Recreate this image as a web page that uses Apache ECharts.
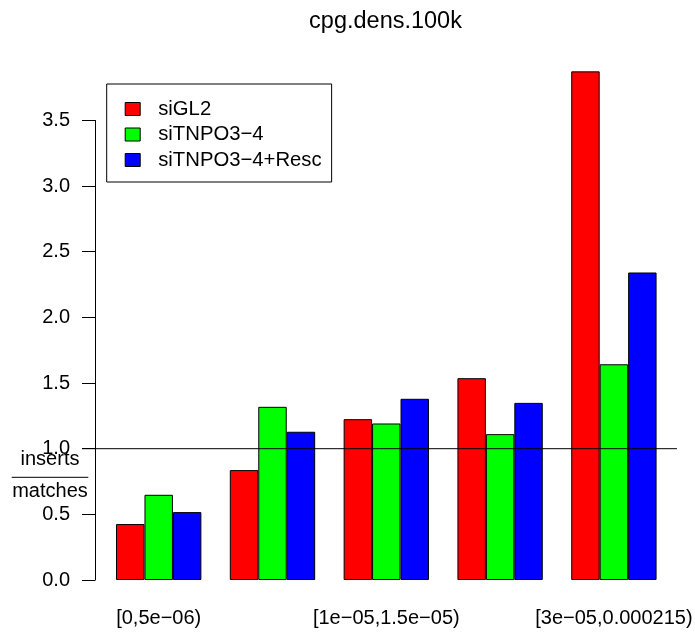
<!DOCTYPE html>
<html>
<head>
<meta charset="utf-8">
<script src="https://cdn.jsdelivr.net/npm/echarts@6/dist/echarts.min.js"></script>
<style>
  html, body { margin: 0; padding: 0; background: #fff; }
  #chart { width: 695px; height: 632px; }
</style>
</head>
<body>
<div id="chart"></div>
<script>
// CpG density bins and the inserts/matches ratio for each condition
const categories = ['[0,5e\u221206)', '[5e\u221206,1e\u221205)', '[1e\u221205,1.5e\u221205)', '[1.5e\u221205,3e\u221205)', '[3e\u221205,0.000215)'];
const siGL2 = [0.426, 0.837, 1.225, 1.537, 3.874];
const siTNPO3_4 = [0.649, 1.319, 1.192, 1.111, 1.643];
const siTNPO3_4_Resc = [0.517, 1.129, 1.380, 1.349, 2.342];
const seriesNames = ['siGL2', 'siTNPO3\u22124', 'siTNPO3\u22124+Resc'];
const seriesColors = ['#ff0000', '#00ff00', '#0000ff'];
const yTicksMax = 3.5;
const yTickStep = 0.5;
const referenceLevel = 1;

// layout
const W = 695;
const baseY = 580;          // pixel row of y = 0
const pxPerUnit = 131.3;    // vertical scale
const plotMax = 4;          // top of the bar panel in data units
const barW = 28.45;
const FONT = '"Liberation Sans", Arial, Helvetica, sans-serif';

const barsLeft = 101.8, barsRight = W - 670.8;
const barsTop = baseY - plotMax * pxPerUnit;
const barsBottom = 632 - baseY;
const axisTop = baseY - yTicksMax * pxPerUnit;

const chart = echarts.init(document.getElementById('chart'), null, { renderer: 'canvas' });

const barSeries = [siGL2, siTNPO3_4, siTNPO3_4_Resc].map((vals, i) => ({
  name: seriesNames[i],
  type: 'bar',
  xAxisIndex: 0,
  yAxisIndex: 0,
  data: vals,
  barWidth: barW,
  barGap: '0%',
  itemStyle: { color: seriesColors[i], borderColor: '#000', borderWidth: 1 },
  emphasis: { disabled: true },
  animation: false
}));

chart.setOption({
  animation: false,
  title: {
    text: 'cpg.dens.100k',
    left: 380.5,
    textAlign: 'center',
    top: 5,
    textStyle: { fontFamily: FONT, fontSize: 23.5, fontWeight: 'normal', color: '#000' }
  },
  legend: {
    data: seriesNames,
    orient: 'vertical',
    left: 106.7,
    top: 84,
    padding: [15, 10, 12, 18],
    borderColor: '#000',
    borderWidth: 1,
    icon: 'rect',
    itemWidth: 15,
    itemHeight: 13,
    itemGap: 5.5,
    textStyle: { fontFamily: FONT, fontSize: 20.3, color: '#000', lineHeight: 19, padding: [0, 0, 0, 13] },
    itemStyle: { borderColor: '#000', borderWidth: 1 },
    selectedMode: false
  },
  grid: [
    // bars
    { left: barsLeft, right: barsRight, top: barsTop, bottom: barsBottom, outerBoundsMode: 'none', containLabel: false },
    // y axis (ticks 0..3.5)
    { left: 95, right: W - 96, top: axisTop, bottom: barsBottom, outerBoundsMode: 'none', containLabel: false },
    // reference line panel
    { left: 82, right: W - 677, top: barsTop, bottom: barsBottom, outerBoundsMode: 'none', containLabel: false }
  ],
  xAxis: [
    {
      gridIndex: 0,
      type: 'category',
      data: categories,
      boundaryGap: true,
      axisLine: { show: false },
      axisTick: { show: false },
      axisLabel: { interval: 1, margin: 28, fontFamily: FONT, fontSize: 20, color: '#000' }
    },
    { gridIndex: 1, type: 'value', min: 0, max: 1, show: false },
    { gridIndex: 2, type: 'value', min: 0, max: 1, show: false }
  ],
  yAxis: [
    { gridIndex: 0, type: 'value', min: 0, max: plotMax, show: false },
    {
      gridIndex: 1,
      type: 'value',
      min: 0,
      max: yTicksMax,
      interval: yTickStep,
      axisLine: { show: true, lineStyle: { color: '#000', width: 1 } },
      axisTick: { show: true, length: 13, lineStyle: { color: '#000', width: 1 } },
      axisLabel: {
        margin: 25,
        fontFamily: FONT,
        fontSize: 20,
        color: '#000',
        formatter: v => v.toFixed(1)
      },
      splitLine: { show: false }
    },
    { gridIndex: 2, type: 'value', min: 0, max: plotMax, show: false }
  ],
  series: barSeries.concat([
    {
      type: 'line',
      xAxisIndex: 2,
      yAxisIndex: 2,
      data: [[0, referenceLevel], [1, referenceLevel]],
      showSymbol: false,
      symbol: 'none',
      lineStyle: { color: '#000', width: 1 },
      z: 5,
      silent: true,
      animation: false
    }
  ]),
  graphic: [
    {
      type: 'text',
      style: { text: 'inserts', fontFamily: FONT, fontSize: 20, fill: '#000', textAlign: 'center', textVerticalAlign: 'middle' },
      x: 50, y: 459
    },
    {
      type: 'line',
      shape: { x1: 11.7, y1: 477.3, x2: 88.3, y2: 477.3 },
      style: { stroke: '#000', lineWidth: 1 }
    },
    {
      type: 'text',
      style: { text: 'matches', fontFamily: FONT, fontSize: 20, fill: '#000', textAlign: 'center', textVerticalAlign: 'middle' },
      x: 50, y: 491.5
    }
  ]
});
</script>
</body>
</html>
